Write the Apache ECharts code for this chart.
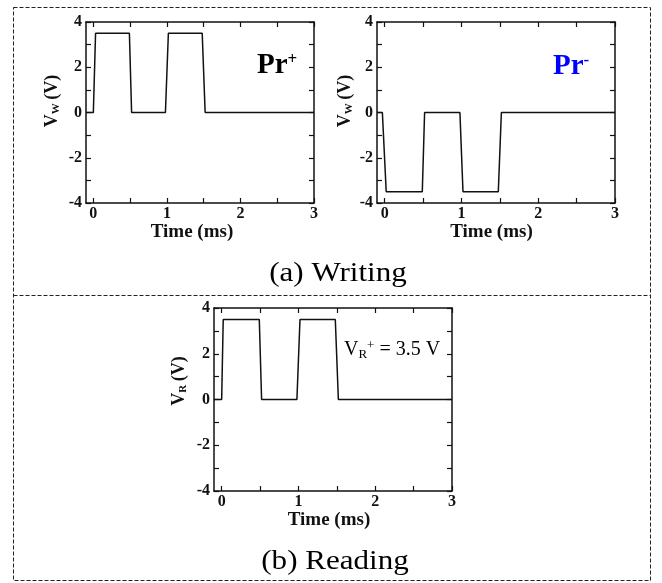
<!DOCTYPE html>
<html>
<head>
<meta charset="utf-8">
<script src="https://cdn.jsdelivr.net/npm/echarts@6/dist/echarts.min.js"></script>
<style>
  html, body { margin: 0; padding: 0; background: #fff; }
  #chart { width: 662px; height: 583px; }
</style>
</head>
<body>
<div id="chart"></div>
<script>
// pulse traces: time in ms, voltage in V
var timeWritePos = [-0.1, 0.0, 0.03, 0.49, 0.52, 0.98, 1.02, 1.48, 1.52, 3.0];
var voltWritePos = [0, 0, 3.5, 3.5, 0, 0, 3.5, 3.5, 0, 0];
var timeWriteNeg = [-0.1, -0.03, 0.02, 0.49, 0.52, 0.98, 1.02, 1.48, 1.52, 3.0];
var voltWriteNeg = [0, 0, -3.5, -3.5, 0, 0, -3.5, -3.5, 0, 0];
var timeRead = [-0.1, 0.0, 0.02, 0.49, 0.52, 0.98, 1.02, 1.48, 1.52, 3.0];
var voltRead = [0, 0, 3.5, 3.5, 0, 0, 3.5, 3.5, 0, 0];

// ticks and labels
var xTicks = [0, 0.5, 1, 1.5, 2, 2.5, 3];
var xLabels = [0, 1, 2, 3];
var yTicks = [-4, -3, -2, -1, 0, 1, 2, 3, 4];
var yLabels = [-4, -2, 0, 2, 4];

var SERIF = '"Liberation Serif", "Times New Roman", serif';
var INK = '#111';

function zip(xs, ys) {
  return xs.map(function (x, i) { return [x, ys[i]]; });
}

// bottom x axis with labels + mirrored top axis with ticks only
function xAxes(gridIndex, nameShift) {
  var base = {
    type: 'value',
    gridIndex: gridIndex,
    min: -0.1,
    max: 3,
    splitLine: { show: false },
    axisLine: { show: true, onZero: false, lineStyle: { color: INK, width: 1.5 } },
    axisTick: { show: true, inside: true, length: 5, customValues: xTicks, lineStyle: { color: INK, width: 1.2 } }
  };
  var bottom = Object.assign({}, base, {
    position: 'bottom',
    name: 'Time (ms)',
    nameLocation: 'middle',
    nameGap: 12,
    nameTextStyle: { fontFamily: SERIF, fontWeight: 'bold', fontSize: 19, color: INK, padding: [0, nameShift, 0, 0] },
    axisLabel: { show: true, customValues: xLabels, margin: 3, fontFamily: SERIF, fontWeight: 'bold', fontSize: 16, color: INK }
  });
  var top = Object.assign({}, base, { position: 'top', axisLabel: { show: false } });
  return [bottom, top];
}

function yAxes(gridIndex) {
  var base = {
    type: 'value',
    gridIndex: gridIndex,
    min: -4,
    max: 4,
    splitLine: { show: false },
    axisLine: { show: true, onZero: false, lineStyle: { color: INK, width: 1.5 } },
    axisTick: { show: true, inside: true, length: 5, customValues: yTicks, lineStyle: { color: INK, width: 1.2 } }
  };
  var left = Object.assign({}, base, {
    position: 'left',
    axisLabel: { show: true, customValues: yLabels, margin: 4, fontFamily: SERIF, fontWeight: 'bold', fontSize: 16, color: INK }
  });
  var right = Object.assign({}, base, { position: 'right', axisLabel: { show: false } });
  return [left, right];
}

function trace(idx, data) {
  return {
    type: 'line',
    xAxisIndex: idx * 2,
    yAxisIndex: idx * 2,
    data: data,
    showSymbol: false,
    silent: true,
    lineStyle: { color: INK, width: 1.5 }
  };
}

function yName(x, y, sub) {
  return {
    type: 'text',
    x: x,
    y: y,
    rotation: Math.PI / 2,
    style: {
      text: '{v|V}{s|' + sub + '} {v|(V)}',
      align: 'center',
      verticalAlign: 'middle',
      fill: INK,
      rich: {
        v: { fontFamily: SERIF, fontWeight: 'bold', fontSize: 18, lineHeight: 20, fill: INK },
        s: { fontFamily: SERIF, fontWeight: 'bold', fontSize: 11, lineHeight: 9, verticalAlign: 'bottom', fill: INK }
      }
    }
  };
}

var myChart = echarts.init(document.getElementById('chart'), null, { renderer: 'canvas' });

var option = {
  animation: false,
  backgroundColor: '#fff',
  grid: [
    { left: 86, top: 22, width: 228, height: 181, outerBoundsMode: 'none' },
    { left: 377, top: 22, width: 238, height: 181, outerBoundsMode: 'none' },
    { left: 214, top: 308, width: 238, height: 183, outerBoundsMode: 'none' }
  ],
  xAxis: [].concat(xAxes(0, 16), xAxes(1, 9), xAxes(2, 8)),
  yAxis: [].concat(yAxes(0), yAxes(1), yAxes(2)),
  series: [
    trace(0, zip(timeWritePos, voltWritePos)),
    trace(1, zip(timeWriteNeg, voltWriteNeg)),
    trace(2, zip(timeRead, voltRead))
  ],
  graphic: [
    // dashed frame and divider
    {
      type: 'rect',
      shape: { x: 13.5, y: 7.5, width: 637, height: 573 },
      style: { fill: 'none', stroke: '#222', lineWidth: 1, lineDash: [4, 2] },
      silent: true
    },
    {
      type: 'line',
      shape: { x1: 13.5, y1: 295.5, x2: 650.5, y2: 295.5 },
      style: { stroke: '#222', lineWidth: 1, lineDash: [4, 2] },
      silent: true
    },
    yName(52, 101, 'W'),
    yName(345, 101, 'W'),
    yName(179, 381, 'R'),
    {
      type: 'text',
      x: 257,
      y: 66,
      style: {
        text: '{p|Pr}{u|+}',
        align: 'left',
        verticalAlign: 'middle',
        rich: {
          p: { fontFamily: SERIF, fontWeight: 'bold', fontSize: 29, lineHeight: 30, fill: '#000' },
          u: { fontFamily: SERIF, fontWeight: 'bold', fontSize: 17, lineHeight: 17, verticalAlign: 'top', fill: '#000' }
        }
      }
    },
    {
      type: 'text',
      x: 553,
      y: 67,
      style: {
        text: '{p|Pr}{u|-}',
        align: 'left',
        verticalAlign: 'middle',
        rich: {
          p: { fontFamily: SERIF, fontWeight: 'bold', fontSize: 29, lineHeight: 30, fill: '#0000ff' },
          u: { fontFamily: SERIF, fontWeight: 'bold', fontSize: 17, lineHeight: 17, verticalAlign: 'top', fill: '#0000ff' }
        }
      }
    },
    {
      type: 'text',
      x: 344,
      y: 350,
      style: {
        text: '{v|V}{s|R}{u|+}{v| = 3.5 V}',
        align: 'left',
        verticalAlign: 'middle',
        rich: {
          v: { fontFamily: SERIF, fontSize: 20, lineHeight: 22, fill: '#000' },
          s: { fontFamily: SERIF, fontSize: 13, lineHeight: 10, verticalAlign: 'bottom', fill: '#000' },
          u: { fontFamily: SERIF, fontSize: 13, lineHeight: 13, verticalAlign: 'top', fill: '#000' }
        }
      }
    },
    // panel captions
    {
      type: 'text',
      x: 338,
      y: 274,
      scaleX: 1.15,
      style: { text: '(a) Writing', align: 'center', verticalAlign: 'middle', fontFamily: SERIF, fontSize: 27, fill: '#000' }
    },
    {
      type: 'text',
      x: 335,
      y: 562,
      scaleX: 1.15,
      style: { text: '(b) Reading', align: 'center', verticalAlign: 'middle', fontFamily: SERIF, fontSize: 27, fill: '#000' }
    }
  ]
};

myChart.setOption(option);
window.addEventListener('resize', function () {
  myChart.resize();
});
</script>
</body>
</html>
